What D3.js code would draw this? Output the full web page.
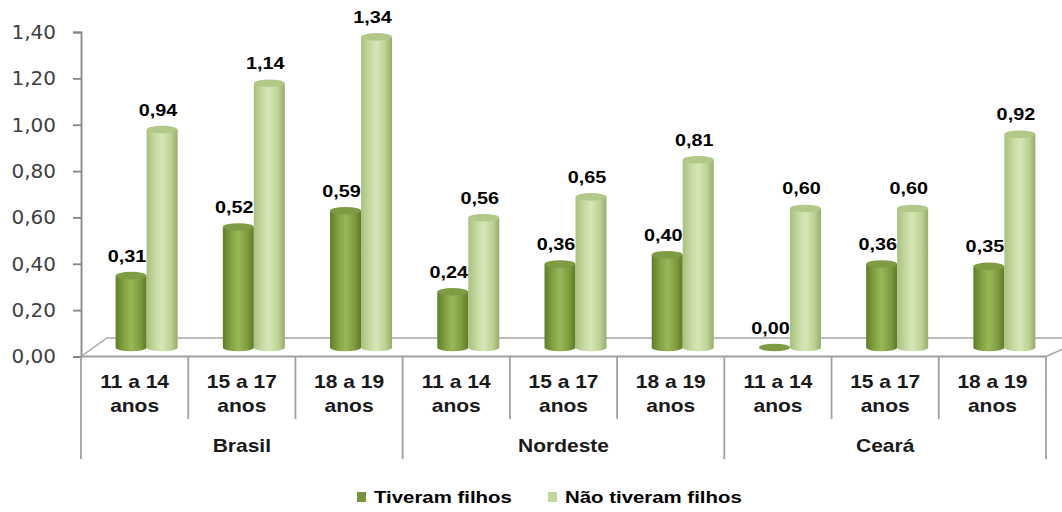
<!DOCTYPE html>
<html>
<head>
<meta charset="utf-8">
<script src="https://cdn.jsdelivr.net/npm/d3@7/dist/d3.min.js"></script>
<style>
  html, body { margin: 0; padding: 0; background: #fff; }
  svg { display: block; font-family: "Liberation Sans", Arial, sans-serif; }
</style>
</head>
<body>
<svg id="chart" width="1062" height="512"></svg>
<script>
// Age groups within each region
const groups = ["Brasil", "Nordeste", "Ceará"];
const ageLines = [["11 a 14", "anos"], ["15 a 17", "anos"], ["18 a 19", "anos"]];
const seriesNames = ["Tiveram filhos", "Não tiveram filhos"];
// Values per category (Brasil x3, Nordeste x3, Ceará x3)
const tiveramFilhos    = [0.31, 0.52, 0.59, 0.24, 0.36, 0.40, 0.00, 0.36, 0.35];
const naoTiveramFilhos = [0.94, 1.14, 1.34, 0.56, 0.65, 0.81, 0.60, 0.60, 0.92];
const yTicks = [0, 0.2, 0.4, 0.6, 0.8, 1.0, 1.2, 1.4];

const svg = d3.select("#chart");
const fmt = v => d3.format(".2f")(v).replace(".", ",");

// layout
const left = 81, right = 1046, floorY = 356.5, topY = 32;
const depth = { x: 12, y: -9 };     // bars sit halfway into the floor depth
const backDepth = { x: 26, y: -18.5 };
const barW = 31, ry = 3.8;
const wide = 1.2;                   // horizontal stretch of the bold labels

// bold label, slightly widened
function boldText(parent, x, y, size, str, anchor = "middle", fill = "#000") {
  return parent.append("text")
    .attr("transform", `translate(${x},${y}) scale(${wide},1)`)
    .attr("text-anchor", anchor)
    .attr("font-size", size).attr("font-weight", "bold").attr("fill", fill)
    .text(str);
}

const categories = [];
groups.forEach((g, gi) => ageLines.forEach((a, ai) => categories.push({ id: gi * 3 + ai, group: g, lines: a })));

const x0 = d3.scaleBand().domain(categories.map(c => c.id)).range([left, right]);
const x1 = d3.scaleBand().domain(seriesNames).range([-barW, barW]);
const y = d3.scaleLinear().domain([0, 1.4]).range([floorY, topY]);

const colors = {
  "Tiveram filhos": { legend: "#77933C", stops: ["#5f7d2b", "#86a645", "#98b857", "#7f9d40", "#5d7a28"], top: "#7e9c44" },
  "Não tiveram filhos": { legend: "#C3D69B", stops: ["#a9c07d", "#c8dba4", "#d6e6b8", "#bdd293", "#96ab6c"], top: "#b2c889" }
};

const defs = svg.append("defs");
seriesNames.forEach((s, i) => {
  const g = defs.append("linearGradient").attr("id", "grad" + i).attr("x1", "0%").attr("x2", "100%");
  const offs = [0, 0.3, 0.5, 0.78, 1];
  colors[s].stops.forEach((c, k) => g.append("stop").attr("offset", offs[k]).attr("stop-color", c));
});

// floor
const gridColor = "#a6a6a6";
const floor = svg.append("g").attr("stroke", gridColor).attr("stroke-width", 1.5).attr("fill", "none");
floor.append("path").attr("d", `M${left},${floorY} L${left + backDepth.x},${floorY + backDepth.y} L1062,${floorY + backDepth.y}`);
floor.append("path").attr("d", `M${right},${floorY} L1062,${floorY - 7}`);

// y axis
const yAxis = d3.axisLeft(y).tickValues(yTicks).tickFormat(fmt).tickSize(8).tickPadding(17);
const ya = svg.append("g").attr("transform", `translate(${left},0)`).call(yAxis);
ya.select(".domain").attr("stroke", "#868686").attr("stroke-width", 1.8);
ya.selectAll(".tick line").attr("stroke", "#868686").attr("stroke-width", 1.8);
ya.selectAll(".tick text").attr("font-size", 20).attr("fill", "#404040")
  .attr("font-family", "DejaVu Sans, sans-serif");

// bars
const data = categories.map(c => ({
  cat: c,
  vals: [
    { s: seriesNames[0], i: 0, v: tiveramFilhos[c.id] },
    { s: seriesNames[1], i: 1, v: naoTiveramFilhos[c.id] }
  ]
}));

const barG = svg.append("g");
data.forEach(d => {
  const cx0 = x0(d.cat.id) + x0.bandwidth() / 2 + depth.x;
  d.vals.forEach(b => {
    const xl = cx0 + x1(b.s);
    const xr = xl + x1.bandwidth();
    const cx = (xl + xr) / 2;
    const rx = (xr - xl) / 2;
    const yb = y(0) + depth.y;
    const yt = y(b.v) + depth.y;
    if (b.v > 0) {
      barG.append("path")
        .attr("d", `M${xl},${yt} L${xl},${yb} A${rx},${ry} 0 0 0 ${xr},${yb} L${xr},${yt} Z`)
        .attr("fill", `url(#grad${b.i})`);
    }
    barG.append("ellipse")
      .attr("cx", cx).attr("cy", yt).attr("rx", rx).attr("ry", ry)
      .attr("fill", colors[b.s].top);
    boldText(barG, cx - 4, yt - 14, 16.5, fmt(b.v));
  });
});

// category axis (front edge of the floor)
const axisColor = "#a0a0a0";
const cg = svg.append("g");
cg.append("line").attr("x1", left).attr("x2", right).attr("y1", floorY).attr("y2", floorY)
  .attr("stroke", axisColor).attr("stroke-width", 1.8);
x0.domain().forEach(id => {
  const xs = x0(id);
  const isGroupEdge = id % 3 === 0;
  cg.append("line").attr("x1", xs).attr("x2", xs).attr("y1", floorY).attr("y2", isGroupEdge ? 459 : 419)
    .attr("stroke", axisColor).attr("stroke-width", 1.8);
});
cg.append("line").attr("x1", right).attr("x2", right).attr("y1", floorY).attr("y2", 459)
  .attr("stroke", axisColor).attr("stroke-width", 1.8);

categories.forEach(c => {
  const cx = x0(c.id) + x0.bandwidth() / 2;
  boldText(cg, cx, 388, 17.5, c.lines[0], "middle", "#1a1a1a");
  boldText(cg, cx, 412, 17.5, c.lines[1], "middle", "#1a1a1a");
});
groups.forEach((g, gi) => {
  const xa = x0(gi * 3), xb = x0(gi * 3 + 2) + x0.bandwidth();
  boldText(cg, (xa + xb) / 2, 452, 17.5, g, "middle", "#1a1a1a");
});

// legend
const legendX = [357, 548];
const lg = svg.append("g");
seriesNames.forEach((s, i) => {
  lg.append("rect").attr("x", legendX[i]).attr("y", 492).attr("width", 9).attr("height", 10)
    .attr("fill", colors[s].legend);
  boldText(lg, legendX[i] + 17, 503, 17, s, "start");
});
</script>
</body>
</html>
